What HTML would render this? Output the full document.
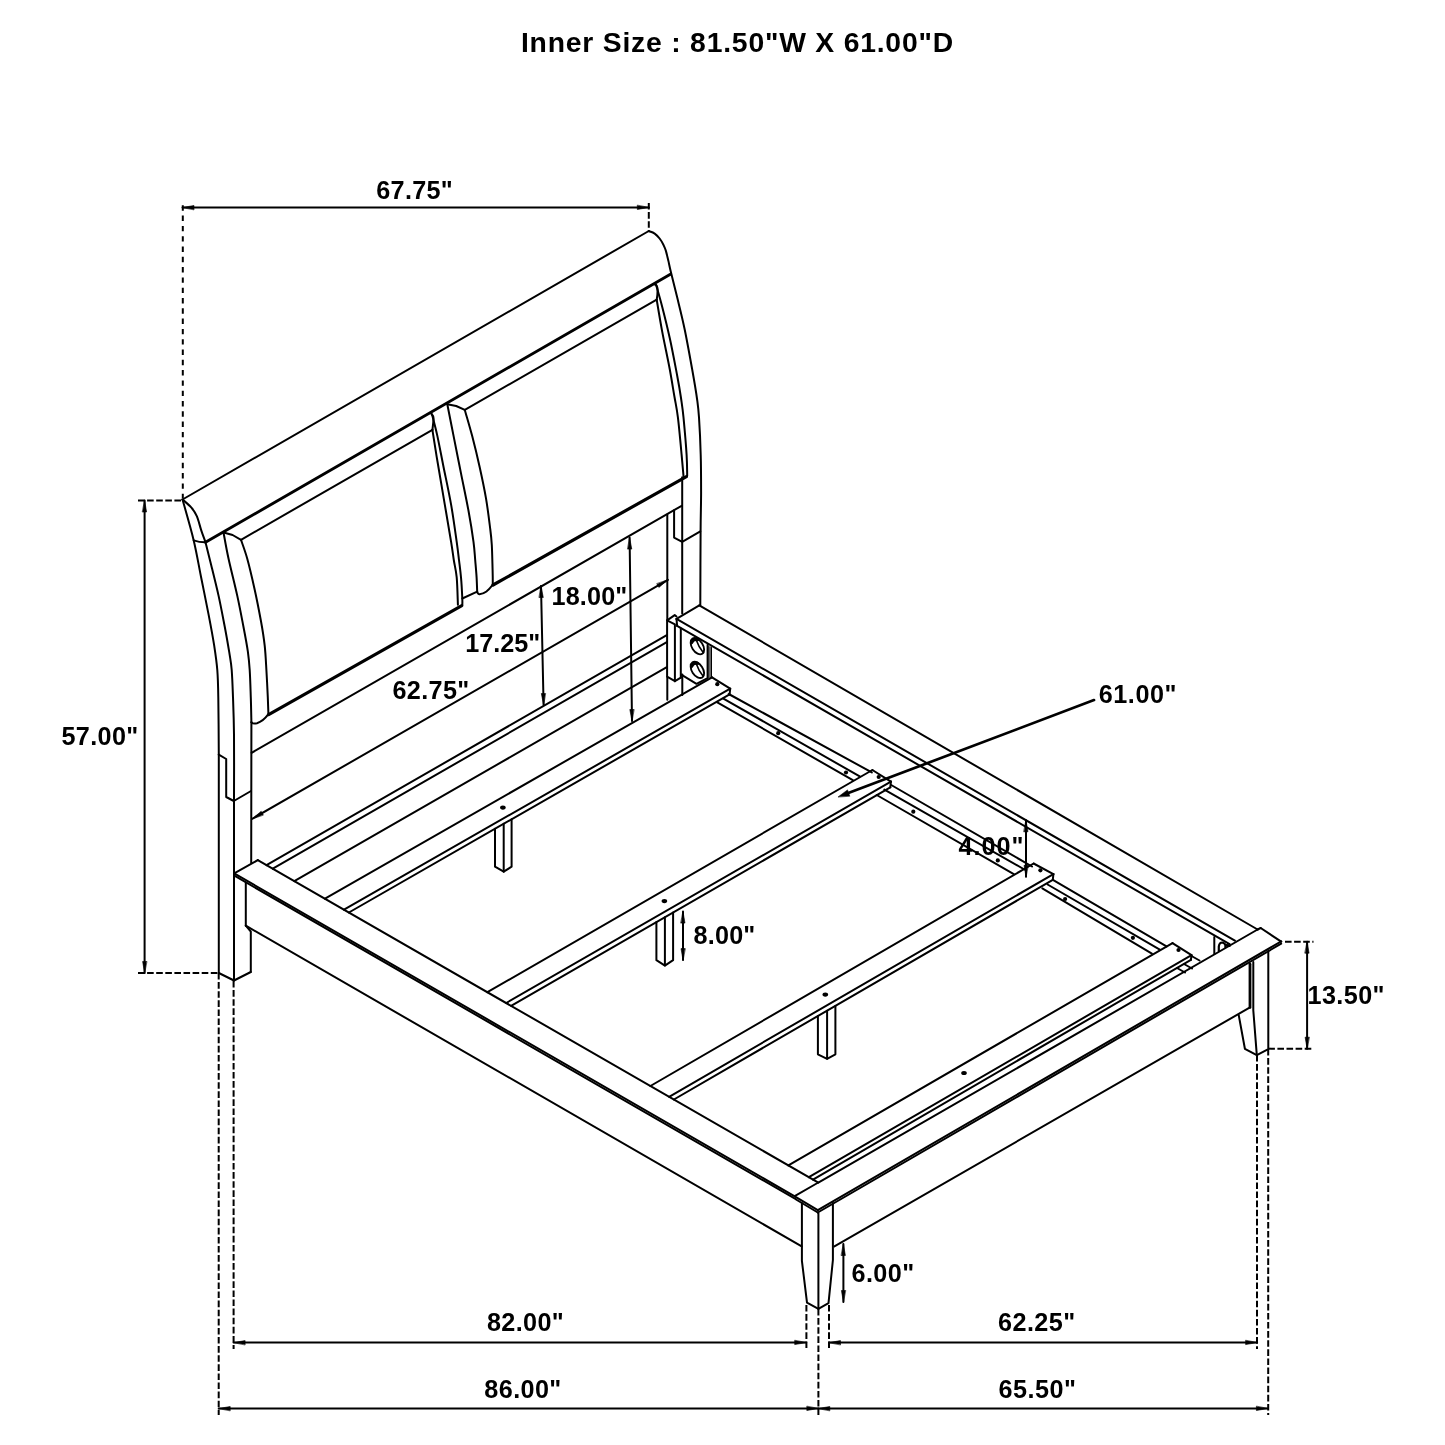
<!DOCTYPE html>
<html><head><meta charset="utf-8"><title>Bed dimensions</title>
<style>
html,body{margin:0;padding:0;background:#fff;}
svg{display:block;filter:grayscale(1);}
text{font-family:"Liberation Sans",Arial,Helvetica,sans-serif;font-weight:bold;fill:#000;stroke:none;}
</style></head>
<body>
<svg width="1445" height="1445" viewBox="0 0 1445 1445">
<rect x="0" y="0" width="1445" height="1445" fill="#fff" stroke="none"/>
<g fill="none" stroke="#000" stroke-width="2.0" stroke-linecap="round" stroke-linejoin="round">
<line x1="182.5" y1="207.5" x2="648.8" y2="207.5"/>
<path d="M648.8 207.5 L637.3 209.5 L637.3 205.5 Z" fill="#000" stroke-width="0.6"/>
<path d="M182.5 207.5 L194.0 205.5 L194.0 209.5 Z" fill="#000" stroke-width="0.6"/>
<line x1="182.8" y1="205.3" x2="182.8" y2="498.0" stroke-dasharray="5.4 4.9" stroke-linecap="butt"/>
<line x1="648.8" y1="203.0" x2="648.8" y2="231.0" stroke-dasharray="6.6 2.5" stroke-linecap="butt"/>
<line x1="144.6" y1="500.5" x2="144.6" y2="973.0"/>
<path d="M144.6 973.0 L142.6 961.5 L146.6 961.5 Z" fill="#000" stroke-width="0.6"/>
<path d="M144.6 500.5 L146.6 512.0 L142.6 512.0 Z" fill="#000" stroke-width="0.6"/>
<line x1="138.0" y1="500.5" x2="182.0" y2="500.5" stroke-dasharray="6.6 2.5" stroke-linecap="butt"/>
<line x1="138.0" y1="973.0" x2="218.4" y2="973.0" stroke-dasharray="6.6 2.5" stroke-linecap="butt"/>
<line x1="218.7" y1="973.0" x2="218.7" y2="1415.0" stroke-dasharray="6.6 2.5" stroke-linecap="butt"/>
<line x1="233.6" y1="981.0" x2="233.6" y2="1349.0" stroke-dasharray="6.6 2.5" stroke-linecap="butt"/>
<line x1="233.6" y1="1342.6" x2="806.2" y2="1342.6"/>
<path d="M806.2 1342.6 L794.7 1344.6 L794.7 1340.6 Z" fill="#000" stroke-width="0.6"/>
<path d="M233.6 1342.6 L245.1 1340.6 L245.1 1344.6 Z" fill="#000" stroke-width="0.6"/>
<line x1="218.7" y1="1408.5" x2="818.3" y2="1408.5"/>
<path d="M818.3 1408.5 L806.8 1410.5 L806.8 1406.5 Z" fill="#000" stroke-width="0.6"/>
<path d="M218.7 1408.5 L230.2 1406.5 L230.2 1410.5 Z" fill="#000" stroke-width="0.6"/>
<line x1="806.4" y1="1305.0" x2="806.4" y2="1349.0" stroke-dasharray="6.6 2.5" stroke-linecap="butt"/>
<line x1="818.4" y1="1309.0" x2="818.4" y2="1415.0" stroke-dasharray="6.6 2.5" stroke-linecap="butt"/>
<line x1="829.0" y1="1305.0" x2="829.0" y2="1349.0" stroke-dasharray="6.6 2.5" stroke-linecap="butt"/>
<line x1="829.0" y1="1342.6" x2="1257.1" y2="1342.6"/>
<path d="M1257.1 1342.6 L1245.6 1344.6 L1245.6 1340.6 Z" fill="#000" stroke-width="0.6"/>
<path d="M829.0 1342.6 L840.5 1340.6 L840.5 1344.6 Z" fill="#000" stroke-width="0.6"/>
<line x1="818.3" y1="1408.5" x2="1267.9" y2="1408.5"/>
<path d="M1267.9 1408.5 L1256.4 1410.5 L1256.4 1406.5 Z" fill="#000" stroke-width="0.6"/>
<path d="M818.3 1408.5 L829.8 1406.5 L829.8 1410.5 Z" fill="#000" stroke-width="0.6"/>
<line x1="1257.0" y1="1055.0" x2="1257.0" y2="1349.0" stroke-dasharray="6.6 2.5" stroke-linecap="butt"/>
<line x1="1268.2" y1="1049.0" x2="1268.2" y2="1415.0" stroke-dasharray="6.6 2.5" stroke-linecap="butt"/>
<line x1="1285.0" y1="941.7" x2="1313.5" y2="941.7" stroke-dasharray="6.6 2.5" stroke-linecap="butt"/>
<line x1="1268.3" y1="1048.7" x2="1313.5" y2="1048.7" stroke-dasharray="6.6 2.5" stroke-linecap="butt"/>
<line x1="1307.1" y1="941.7" x2="1307.1" y2="1048.7"/>
<path d="M1307.1 1048.7 L1305.1 1037.2 L1309.1 1037.2 Z" fill="#000" stroke-width="0.6"/>
<path d="M1307.1 941.7 L1309.1 953.2 L1305.1 953.2 Z" fill="#000" stroke-width="0.6"/>
<line x1="843.4" y1="1244.0" x2="843.4" y2="1302.0"/>
<path d="M843.4 1302.0 L841.4 1290.5 L845.4 1290.5 Z" fill="#000" stroke-width="0.6"/>
<path d="M843.4 1244.0 L845.4 1255.5 L841.4 1255.5 Z" fill="#000" stroke-width="0.6"/>
<line x1="683.0" y1="911.6" x2="683.0" y2="960.1"/>
<path d="M683.0 960.1 L681.0 948.6 L685.0 948.6 Z" fill="#000" stroke-width="0.6"/>
<path d="M683.0 911.6 L685.0 923.1 L681.0 923.1 Z" fill="#000" stroke-width="0.6"/>
<line x1="541.0" y1="586.0" x2="543.6" y2="705.0"/>
<path d="M543.6 705.0 L541.3 693.5 L545.3 693.5 Z" fill="#000" stroke-width="0.6"/>
<path d="M541.0 586.0 L543.3 597.5 L539.3 597.5 Z" fill="#000" stroke-width="0.6"/>
<line x1="629.6" y1="537.6" x2="632.0" y2="721.0"/>
<path d="M632.0 721.0 L629.8 709.5 L633.8 709.5 Z" fill="#000" stroke-width="0.6"/>
<path d="M629.6 537.6 L631.8 549.1 L627.8 549.1 Z" fill="#000" stroke-width="0.6"/>
<line x1="252.2" y1="818.8" x2="667.9" y2="579.9"/>
<path d="M667.9 579.9 L658.9 587.4 L656.9 583.9 Z" fill="#000" stroke-width="0.6"/>
<path d="M252.2 818.8 L261.2 811.3 L263.2 814.8 Z" fill="#000" stroke-width="0.6"/>
<line x1="1026.0" y1="820.3" x2="1026.0" y2="876.8"/>
<path d="M1026.0 876.8 L1024.0 865.3 L1028.0 865.3 Z" fill="#000" stroke-width="0.6"/>
<path d="M1026.0 820.3 L1028.0 831.8 L1024.0 831.8 Z" fill="#000" stroke-width="0.6"/>
<line x1="1094.0" y1="700.1" x2="845.0" y2="794.3" stroke-width="2.7"/>
<path d="M838.3 796.8 L847.5 789.9 L849.7 795.9 Z" fill="#000" stroke-width="0.6"/>
<line x1="182.5" y1="499.5" x2="648.8" y2="231.0"/>
<path d="M649.0 231.2 C650.0 231.6 652.9 232.4 654.7 233.6 C656.5 234.8 658.2 236.7 659.6 238.5 C661.0 240.3 662.4 242.6 663.4 244.7 C664.4 246.8 665.1 248.2 665.9 250.9 C666.7 253.6 667.5 257.3 668.4 260.9 C669.2 264.5 669.5 266.5 671.0 272.5 C672.5 278.5 674.8 287.6 677.1 297.1 C679.4 306.6 682.2 317.4 684.7 329.5 C687.2 341.6 690.1 357.8 692.2 369.5 C694.3 381.2 696.1 392.0 697.2 400.0 C698.3 408.0 698.4 408.3 699.0 417.4 C699.6 426.5 700.4 442.3 700.7 454.7 C701.1 467.1 701.1 479.2 701.1 492.0 C701.1 504.8 700.7 512.4 700.6 531.3 C700.5 550.2 700.3 593.0 700.3 605.4"/>
<path d="M182.5 499.5 C183.9 500.8 188.8 504.6 191.2 507.4 C193.6 510.2 195.2 512.5 196.8 516.2 C198.5 520.0 199.7 525.5 201.1 529.9 C202.5 534.2 204.8 540.2 205.5 542.3"/>
<path d="M182.5 499.5 C184.4 506.3 190.6 527.4 193.7 540.4 C196.8 553.4 198.6 564.8 201.1 577.2 C203.6 589.6 206.4 603.2 208.6 614.6 C210.8 626.0 212.8 636.5 214.2 645.7 C215.6 654.9 216.6 661.4 217.3 670.0 C218.0 678.6 218.1 683.3 218.3 697.4 C218.6 711.5 218.7 745.2 218.8 754.7"/>
<line x1="218.8" y1="754.7" x2="218.8" y2="973.0"/>
<path d="M193.7 540.4 Q199.5 542.4 205.5 542.3"/>
<line x1="205.5" y1="542.3" x2="670.4" y2="274.2" stroke-width="2.9"/>
<path d="M205.5 542.3 C206.4 546.0 208.9 555.8 211.1 564.7 C213.3 573.6 216.3 585.5 218.6 595.9 C220.9 606.3 223.0 617.7 224.8 627.0 C226.6 636.3 228.0 644.7 229.2 651.9 C230.3 659.1 231.1 662.4 231.7 670.0 C232.3 677.6 232.6 686.6 233.0 697.4 C233.4 708.2 233.8 717.5 234.0 734.7 C234.2 751.9 234.0 789.8 234.0 800.8"/>
<line x1="234.0" y1="800.8" x2="234.0" y2="980.5"/>
<path d="M223.6 533.0 C224.4 537.2 226.2 548.0 228.5 558.5 C230.8 569.0 234.8 584.5 237.3 595.9 C239.8 607.3 241.7 617.7 243.5 627.0 C245.3 636.3 246.9 644.7 247.9 651.9 C248.9 659.1 249.2 662.4 249.7 670.0 C250.2 677.6 250.5 688.7 250.8 697.4 C251.1 706.1 251.3 718.1 251.4 722.3"/>
<line x1="251.4" y1="722.3" x2="251.2" y2="863.0"/>
<path d="M241.0 539.8 C242.0 542.9 244.9 550.2 247.2 558.5 C249.5 566.8 252.4 579.3 254.7 589.7 C257.0 600.1 259.2 611.5 260.9 620.8 C262.6 630.1 263.8 637.5 264.7 645.7 C265.6 653.9 265.9 661.4 266.4 670.0 C266.9 678.6 267.5 690.1 267.8 697.4 C268.1 704.7 268.3 710.9 268.4 713.6"/>
<path d="M223.6 532.5 L232.6 535.0 L241.0 539.8"/>
<line x1="241.0" y1="539.8" x2="432.4" y2="429.8"/>
<path d="M431.1 413.6 C431.5 414.3 433.3 415.3 433.5 418.0 C433.7 420.7 432.6 427.8 432.4 429.8"/>
<path d="M432.4 429.8 C433.2 435.0 435.3 448.5 437.4 461.0 C439.5 473.5 442.5 491.1 444.8 504.6 C447.1 518.1 449.6 532.7 451.1 541.9 C452.6 551.1 452.9 554.1 453.8 560.0 C454.7 565.9 456.0 569.9 456.7 577.4 C457.4 584.9 457.7 600.2 457.9 604.8"/>
<path d="M432.0 414.3 C432.9 417.9 435.5 427.3 437.4 436.1 C439.3 444.9 441.3 455.8 443.6 467.2 C445.9 478.6 448.9 492.2 451.1 504.6 C453.3 517.1 455.4 532.7 456.7 541.9 C458.0 551.1 458.3 554.1 459.0 560.0 C459.7 565.9 460.4 571.0 461.0 577.4 C461.6 583.8 462.1 593.9 462.3 598.5 C462.5 603.1 462.3 603.8 462.3 604.8"/>
<line x1="268.6" y1="714.6" x2="461.8" y2="605.6" stroke-width="3.2"/>
<path d="M251.5 722.3 Q253 724.2 257 723.2 Q263 721.5 268.4 714.2"/>
<path d="M447.3 404.3 C448.4 409.6 451.3 424.6 453.6 436.1 C455.9 447.6 458.5 460.9 461.0 473.4 C463.5 485.8 466.4 499.4 468.5 510.8 C470.6 522.2 472.4 533.7 473.5 541.9 C474.6 550.1 474.7 554.1 475.2 560.0 C475.7 565.9 476.3 572.0 476.6 577.4 C476.9 582.8 477.1 589.8 477.2 592.3"/>
<path d="M447.3 404.3 L456.2 406.0 L464.8 409.9"/>
<path d="M464.8 409.9 C466.0 414.3 469.7 426.6 472.2 436.1 C474.7 445.7 477.4 456.8 479.7 467.2 C482.0 477.6 484.2 487.9 486.0 498.3 C487.8 508.7 489.3 521.7 490.3 529.5 C491.3 537.3 491.4 538.2 491.8 545.0 C492.2 551.8 492.4 563.4 492.6 570.0 C492.8 576.6 492.8 582.3 492.8 584.8"/>
<path d="M477.2 592.3 C477.6 592.6 477.9 594.4 479.5 594.3 C481.1 594.2 484.3 593.1 486.5 591.5 C488.7 589.9 491.8 585.9 492.8 584.8"/>
<line x1="464.8" y1="409.9" x2="656.7" y2="299.7"/>
<path d="M654.4 284.3 Q657.6 285.2 657.6 290 Q657.6 295 656.7 299.7"/>
<path d="M656.7 299.7 C657.6 305.1 660.1 320.5 662.3 332.1 C664.5 343.7 667.8 358.7 669.8 369.5 C671.8 380.3 673.1 389.0 674.5 397.0 C675.9 405.0 676.7 407.8 677.9 417.4 C679.1 427.0 680.7 444.9 681.6 454.7 C682.5 464.4 683.2 472.4 683.5 475.9"/>
<path d="M656.1 284.8 C657.1 288.5 660.0 298.3 662.3 307.2 C664.6 316.1 667.3 326.9 669.8 338.3 C672.3 349.7 675.3 365.8 677.2 375.7 C679.1 385.6 680.0 391.1 681.0 398.0 C682.0 404.9 682.6 407.9 683.5 417.4 C684.4 426.8 686.0 444.9 686.6 454.7 C687.2 464.4 687.1 472.4 687.2 475.9"/>
<line x1="493.0" y1="585.0" x2="686.4" y2="476.6" stroke-width="3.2"/>
<line x1="462.3" y1="598.5" x2="477.2" y2="591.7"/>
<line x1="251.6" y1="752.8" x2="681.6" y2="505.8"/>
<line x1="682.2" y1="477.2" x2="682.2" y2="613.5"/>
<path d="M674.1 510.2 L674.1 537.6 L682.2 541.9 L700.3 531.3"/>
<line x1="667.3" y1="514.5" x2="667.3" y2="619.7"/>
<line x1="667.3" y1="677.0" x2="667.3" y2="699.8"/>
<path d="M218.8 754.7 L226.2 759.0 L226.2 797.0 L233.8 801.0 L251.0 791.0"/>
<line x1="699.3" y1="605.4" x2="1257.6" y2="929.5"/>
<line x1="699.3" y1="605.4" x2="676.5" y2="618.9"/>
<line x1="676.5" y1="618.9" x2="1234.9" y2="940.6"/>
<line x1="676.5" y1="618.9" x2="677.1" y2="625.8"/>
<line x1="677.1" y1="625.8" x2="1229.6" y2="944.2"/>
<line x1="711.0" y1="647.6" x2="711.0" y2="677.4"/>
<path d="M707.6 645 L711 647.2 L711 677.4 L707.6 678.2 Z" fill="#666" stroke="none"/>
<path d="M667.1 620.3 L674.9 624.3 L674.9 681.2 L667.1 676.7 Z"/>
<path d="M667.1 620.3 L674.7 615.1 L676.5 616.5"/>
<path d="M674.9 681.2 L681.3 677.4"/>
<line x1="680.8" y1="628.5" x2="680.8" y2="677.4"/>
<path d="M681.3 674.6 L696.5 683.8 L707.6 678.2 L707.6 644.8"/>
<line x1="682.3" y1="674.6" x2="682.3" y2="695.0"/>
<ellipse cx="697.4" cy="646.2" rx="5.5" ry="9.0" transform="rotate(-33 697.4 646.2)" stroke-width="1.9"/>
<path d="M696.6 640.8 Q698.6 647.0 703.2 652.6" stroke-width="1.6"/>
<path d="M691.6 642.6 Q693.2 638.6 697.6 639.6" stroke-width="3.2"/>
<ellipse cx="697.4" cy="669.9" rx="5.5" ry="9.0" transform="rotate(-33 697.4 669.9)" stroke-width="1.9"/>
<path d="M696.6 664.5 Q698.6 670.7 703.2 676.3" stroke-width="1.6"/>
<path d="M691.6 666.3 Q693.2 662.3 697.6 663.3" stroke-width="3.2"/>
<line x1="266.5" y1="865.1" x2="666.8" y2="635.2"/>
<line x1="272.8" y1="868.7" x2="666.8" y2="642.1"/>
<line x1="294.3" y1="881.1" x2="666.8" y2="667.2"/>
<line x1="325.0" y1="898.7" x2="712.0" y2="677.3"/>
<line x1="344.0" y1="909.7" x2="730.2" y2="688.7"/>
<line x1="348.9" y1="912.5" x2="729.6" y2="694.4"/>
<line x1="712.0" y1="677.3" x2="730.2" y2="688.7"/>
<line x1="730.2" y1="688.7" x2="729.6" y2="694.4"/>
<line x1="487.4" y1="992.2" x2="872.4" y2="770.0"/>
<line x1="506.2" y1="1003.0" x2="890.9" y2="781.6"/>
<line x1="511.1" y1="1005.8" x2="890.3" y2="787.3"/>
<line x1="872.4" y1="770.0" x2="890.9" y2="781.6"/>
<line x1="890.9" y1="781.6" x2="890.3" y2="787.3"/>
<line x1="650.4" y1="1086.0" x2="1033.6" y2="863.5"/>
<line x1="669.1" y1="1096.8" x2="1053.4" y2="874.1"/>
<line x1="673.9" y1="1099.5" x2="1052.8" y2="879.8"/>
<line x1="1033.6" y1="863.5" x2="1053.4" y2="874.1"/>
<line x1="1053.4" y1="874.1" x2="1052.8" y2="879.8"/>
<line x1="788.4" y1="1165.4" x2="1172.5" y2="943.1"/>
<line x1="808.9" y1="1177.2" x2="1191.5" y2="955.2"/>
<line x1="813.0" y1="1179.6" x2="1190.9" y2="959.8"/>
<line x1="1172.5" y1="943.1" x2="1191.5" y2="955.2"/>
<line x1="1191.5" y1="955.2" x2="1190.9" y2="959.8"/>
<line x1="728.7" y1="694.0" x2="871.8" y2="772.4"/>
<line x1="723.4" y1="698.6" x2="859.7" y2="776.4"/>
<line x1="717.3" y1="702.4" x2="852.8" y2="780.2"/>
<line x1="891.2" y1="785.0" x2="1032.0" y2="866.5"/>
<line x1="884.4" y1="789.6" x2="1024.4" y2="869.5"/>
<line x1="876.7" y1="795.0" x2="1013.8" y2="874.1"/>
<line x1="1052.9" y1="879.9" x2="1166.5" y2="946.4"/>
<line x1="1047.6" y1="884.5" x2="1159.8" y2="949.7"/>
<line x1="1042.3" y1="888.3" x2="1151.9" y2="953.6"/>
<line x1="1191.5" y1="956.0" x2="1199.5" y2="960.5"/>
<line x1="1184.0" y1="964.0" x2="1192.0" y2="968.5"/>
<line x1="1177.0" y1="968.0" x2="1185.0" y2="972.5"/>
<circle cx="717.3" cy="684.2" r="2.1" fill="#000" stroke="none"/>
<circle cx="778.2" cy="733.2" r="2.1" fill="#000" stroke="none"/>
<circle cx="846" cy="772.5" r="2.1" fill="#000" stroke="none"/>
<circle cx="878.7" cy="777" r="2.1" fill="#000" stroke="none"/>
<circle cx="913.3" cy="811.7" r="2.1" fill="#000" stroke="none"/>
<circle cx="997.8" cy="860.4" r="2.1" fill="#000" stroke="none"/>
<circle cx="1040.4" cy="870.3" r="2.1" fill="#000" stroke="none"/>
<circle cx="1065.1" cy="899" r="2.1" fill="#000" stroke="none"/>
<circle cx="1132.9" cy="937.8" r="2.1" fill="#000" stroke="none"/>
<circle cx="1178.5" cy="950" r="2.1" fill="#000" stroke="none"/>
<ellipse cx="502.9" cy="807.6" rx="2.80" ry="2.05" fill="#000" stroke="none"/>
<ellipse cx="664.4" cy="901.1" rx="2.80" ry="2.05" fill="#000" stroke="none"/>
<ellipse cx="825.3" cy="994.6" rx="2.80" ry="2.05" fill="#000" stroke="none"/>
<ellipse cx="964.0" cy="1073.0" rx="2.80" ry="2.05" fill="#000" stroke="none"/>
<path d="M495.0 828.8 L495.0 866.7 L503.7 871.7 L511.6 866.7 L511.6 819.3"/>
<line x1="503.7" y1="823.8" x2="503.7" y2="871.7"/>
<path d="M656.4 922.1 L656.4 960.2 L664.9 965.6 L673.1 960.2 L673.1 912.5"/>
<line x1="664.9" y1="917.2" x2="664.9" y2="965.6"/>
<path d="M817.9 1016.0 L817.9 1054.3 L827.1 1058.8 L835.4 1054.3 L835.4 1005.9"/>
<line x1="827.1" y1="1010.7" x2="827.1" y2="1058.8"/>
<line x1="257.8" y1="860.1" x2="817.9" y2="1182.4"/>
<line x1="234.2" y1="873.4" x2="795.2" y2="1196.6"/>
<line x1="234.4" y1="875.7" x2="795.4" y2="1198.9"/>
<line x1="234.2" y1="873.4" x2="257.8" y2="860.1"/>
<line x1="245.8" y1="882.5" x2="245.8" y2="925.7"/>
<line x1="245.8" y1="925.7" x2="801.7" y2="1246.4"/>
<path d="M245.8 925.7 L250.8 931.5 L250.8 972.0"/>
<path d="M218.8 973.0 L234.0 980.5 L250.8 972.0"/>
<line x1="795.1" y1="1195.9" x2="816.6" y2="1183.5"/>
<line x1="796.0" y1="1197.2" x2="817.8" y2="1210.2"/>
<line x1="796.0" y1="1199.5" x2="817.8" y2="1212.5"/>
<line x1="817.8" y1="1210.2" x2="1281.2" y2="941.4"/>
<line x1="817.8" y1="1212.5" x2="1281.2" y2="943.7"/>
<line x1="1257.6" y1="929.5" x2="817.9" y2="1182.9"/>
<line x1="1260.7" y1="928.0" x2="1281.2" y2="941.7"/>
<line x1="1257.6" y1="929.5" x2="1260.7" y2="928.0"/>
<line x1="834.4" y1="1246.4" x2="1250.0" y2="1007.4"/>
<line x1="1250.0" y1="964.2" x2="1250.0" y2="1007.4" stroke-width="2.8"/>
<path d="M801.9 1203.0 L801.9 1260.8 L807.0 1302.7 L818.4 1308.8 L828.5 1303.2 L832.9 1260.0 L832.9 1203.0"/>
<line x1="818.4" y1="1213.0" x2="818.4" y2="1308.8"/>
<path d="M1238.7 1015.0 L1244.9 1048.8 L1256.8 1055.1 L1268.3 1049.2 L1268.3 951.0"/>
<path d="M1253.3 962.0 L1253.3 1010.3 L1256.8 1055.1"/>
<path d="M1214.3 937.0 L1214.3 954.0"/>
<path d="M1218.8 951 L1218.8 946.7 Q1219.2 942.5 1222.3 942.5 Q1224.9 942.9 1225.4 945.3 L1225.4 947.2" stroke-width="2.2"/>
<path d="M1226.5 945.3 L1229.5 945.6" stroke-width="2.6"/>
</g>
<g>
<text x="520.9" y="51.8" font-size="28.3" textLength="432.2" lengthAdjust="spacing">Inner Size : 81.50"W X 61.00"D</text>
<text x="376.3" y="198.6" font-size="25.2" textLength="76.4" lengthAdjust="spacing">67.75"</text>
<text x="61.5" y="744.9" font-size="25.2" textLength="76.8" lengthAdjust="spacing">57.00"</text>
<text x="551.5" y="605.2" font-size="25.2" textLength="75.8" lengthAdjust="spacing">18.00"</text>
<text x="465.3" y="651.6" font-size="25.2" textLength="74.8" lengthAdjust="spacing">17.25"</text>
<text x="392.5" y="699.0" font-size="25.2" textLength="76.8" lengthAdjust="spacing">62.75"</text>
<text x="1098.7" y="703.3" font-size="25.2" textLength="77.8" lengthAdjust="spacing">61.00"</text>
<text x="958.6" y="854.8" font-size="25.2" textLength="64.9" lengthAdjust="spacing">4.00"</text>
<text x="693.6" y="943.8" font-size="25.2" textLength="61.7" lengthAdjust="spacing">8.00"</text>
<text x="1307.5" y="1004.2" font-size="25.2" textLength="77.0" lengthAdjust="spacing">13.50"</text>
<text x="851.6" y="1281.7" font-size="25.2" textLength="62.5" lengthAdjust="spacing">6.00"</text>
<text x="487.0" y="1330.9" font-size="25.2" textLength="76.7" lengthAdjust="spacing">82.00"</text>
<text x="484.3" y="1397.6" font-size="25.2" textLength="77.0" lengthAdjust="spacing">86.00"</text>
<text x="998.0" y="1331.0" font-size="25.2" textLength="77.2" lengthAdjust="spacing">62.25"</text>
<text x="998.5" y="1398.0" font-size="25.2" textLength="77.5" lengthAdjust="spacing">65.50"</text>
</g>
</svg>
</body></html>
